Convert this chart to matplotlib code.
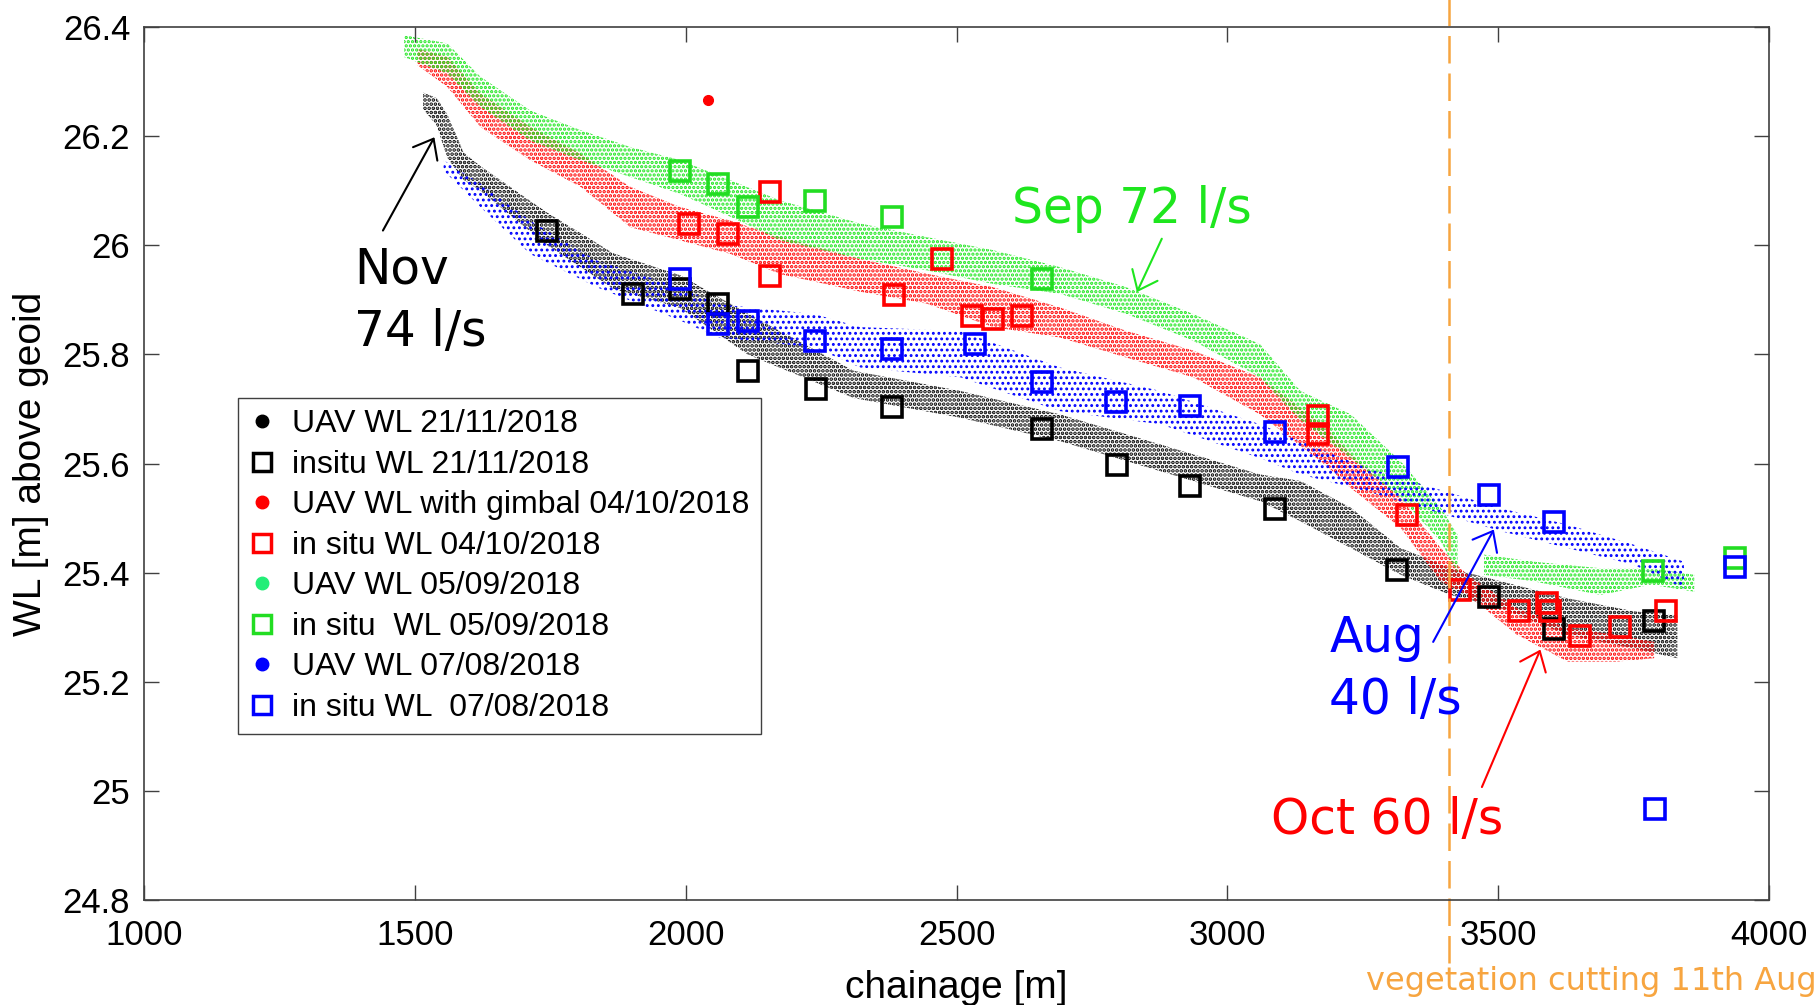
import numpy as np
import matplotlib as mpl
import matplotlib.pyplot as plt
from matplotlib.lines import Line2D

mpl.rcParams['font.family'] = 'Liberation Sans'

# UAV water level clouds: lower / upper envelope of the point cloud at each chainage
nov_ch = [1515, 1540, 1560, 1590, 1621, 1744, 1867, 1990, 2114, 2310, 2507, 2691, 2876, 3060,
          3135, 3228, 3320, 3412, 3505, 3628, 3751, 3831]
nov_lo = [26.25, 26.22, 26.16, 26.12, 26.10, 26.00, 25.92, 25.885, 25.80, 25.72, 25.684, 25.641,
          25.586, 25.531, 25.494, 25.445, 25.396, 25.359, 25.335, 25.286, 25.261, 25.243]
nov_hi = [26.28, 26.27, 26.24, 26.17, 26.145, 26.06, 25.985, 25.945, 25.875, 25.77, 25.733, 25.69,
          25.635, 25.58, 25.568, 25.519, 25.445, 25.408, 25.384, 25.353, 25.329, 25.322]

oct_ch = [1505, 1560, 1621, 1713, 1806, 1898, 1990, 2083, 2175, 2322, 2445, 2568, 2691, 2814,
          2937, 3060, 3184, 3228, 3320, 3394, 3443, 3535, 3628, 3720, 3788]
oct_lo = [26.33, 26.29, 26.217, 26.156, 26.107, 26.033, 26.009, 25.984, 25.947, 25.915, 25.893,
          25.85, 25.831, 25.794, 25.758, 25.69, 25.595, 25.555, 25.482, 25.384, 25.359, 25.286,
          25.237, 25.237, 25.243]
oct_hi = [26.36, 26.346, 26.278, 26.217, 26.168, 26.107, 26.07, 26.045, 26.015, 25.975, 25.948,
          25.923, 25.886, 25.843, 25.807, 25.758, 25.665, 25.617, 25.537, 25.445, 25.396, 25.335,
          25.298, 25.286, 25.273]

sep_ch = [1480, 1560, 1621, 1713, 1806, 1898, 1990, 2083, 2175, 2322, 2445, 2568, 2691, 2814,
          2937, 3060, 3135, 3228, 3320, 3394, 3425, 3445, 3474, 3566, 3689, 3782, 3862]
sep_lo = [26.345, 26.315, 26.254, 26.192, 26.156, 26.125, 26.094, 26.052, 26.009, 25.975, 25.954,
          25.929, 25.911, 25.874, 25.825, 25.758, 25.68, 25.61, 25.537, 25.457, 25.40, np.nan,
          25.396, 25.384, 25.359, 25.378, 25.365]
sep_hi = [26.385, 26.37, 26.309, 26.247, 26.211, 26.18, 26.156, 26.119, 26.082, 26.04, 26.015,
          25.991, 25.96, 25.923, 25.874, 25.819, 25.733, 25.69, 25.604, 25.519, 25.47, np.nan,
          25.433, 25.42, 25.408, 25.408, 25.396]

aug_ch = [1553, 1621, 1713, 1836, 1990, 2060, 2237, 2322, 2507, 2691, 2876, 3060, 3135, 3258,
          3382, 3505, 3628, 3751, 3843]
aug_lo = [26.137, 26.07, 25.984, 25.923, 25.862, 25.831, 25.813, 25.776, 25.758, 25.696, 25.672,
          25.61, 25.58, 25.549, 25.512, 25.476, 25.445, 25.414, 25.371]
aug_hi = [26.156, 26.113, 26.045, 25.972, 25.923, 25.892, 25.874, 25.85, 25.843, 25.776, 25.733,
          25.672, 25.641, 25.592, 25.555, 25.518, 25.488, 25.451, 25.42]

# in situ gauge readings
nov_situ_ch = [1743, 1903, 1989, 2060, 2115, 2241, 2380, 2657, 2796, 2931, 3088, 3314, 3483, 3603, 3788]
nov_situ_wl = [26.027, 25.911, 25.920, 25.892, 25.770, 25.736, 25.703, 25.663, 25.598, 25.559,
               25.516, 25.405, 25.356, 25.297, 25.311]

oct_situ_ch = [2007, 2078, 2155, 2155, 2384, 2473, 2528, 2568, 2620, 3168, 3168, 3331, 3430, 3538,
               3591, 3596, 3652, 3725, 3809]
oct_situ_wl = [26.039, 26.021, 26.097, 25.944, 25.908, 25.975, 25.871, 25.865, 25.871, 25.687,
               25.654, 25.506, 25.368, 25.329, 25.344, 25.33, 25.284, 25.30, 25.33]

sep_situ_ch = [1989, 2060, 2115, 2238, 2380, 2657, 3785, 3938]
sep_situ_wl = [26.137, 26.113, 26.070, 26.082, 26.052, 25.939, 25.403, 25.427]

aug_situ_ch = [1989, 2060, 2115, 2238, 2380, 2534, 2657, 2795, 2931, 3088, 3315, 3483, 3604, 3790, 3938]
aug_situ_wl = [25.938, 25.855, 25.862, 25.825, 25.810, 25.819, 25.749, 25.712, 25.706, 25.657,
               25.593, 25.543, 25.492, 24.967, 25.411]

# one stray gimbal point
oct_outlier = (2041, 26.266)

legend_labels = ['UAV WL 21/11/2018', 'insitu WL 21/11/2018', 'UAV WL with gimbal 04/10/2018',
                 'in situ WL 04/10/2018', 'UAV WL 05/09/2018', 'in situ  WL 05/09/2018',
                 'UAV WL 07/08/2018', 'in situ WL  07/08/2018']

yticks = [24.8, 25.0, 25.2, 25.4, 25.6, 25.8, 26.0, 26.2, 26.4]
ytick_labels = ['24.8', '25', '25.2', '25.4', '25.6', '25.8', '26', '26.2', '26.4']
xticks = [1000, 1500, 2000, 2500, 3000, 3500, 4000]

veg_cut = 3410

BLACK, RED, GREEN, BLUE = '#000000', '#ff0000', '#1ee61e', '#0000ff'
GREEN_SQ = '#22dd22'
ORANGE = '#f7a540'

fig = plt.figure(figsize=(18.19, 10.05), dpi=100)
ax = fig.add_axes([0.0792, 0.1045, 0.8933, 0.8686])


def cloud(ch, lo, hi, color, hatch, lw):
    with mpl.rc_context({'hatch.linewidth': lw}):
        ax.fill_between(ch, lo, hi, facecolor='none', edgecolor=color, hatch=hatch, linewidth=0)


sq = dict(ls='none', marker='s', mfc='none', ms=14, mew=2.6)

cloud(nov_ch, nov_lo, nov_hi, BLACK, '....', 1.8)
ax.plot(nov_situ_ch, nov_situ_wl, mec=BLACK, **sq)
cloud(oct_ch, oct_lo, oct_hi, RED, '....', 1.7)
ax.plot(*oct_outlier, 'o', color=RED, ms=7)
ax.plot(oct_situ_ch, oct_situ_wl, mec=RED, **sq)
cloud(sep_ch, sep_lo, sep_hi, GREEN, '....', 1.6)
ax.plot(sep_situ_ch, sep_situ_wl, mec=GREEN_SQ, **sq)
cloud(aug_ch, aug_lo, aug_hi, BLUE, '...', 1.3)
ax.plot(aug_situ_ch, aug_situ_wl, mec=BLUE, **sq)

ax.set_xlim(1000, 4000)
ax.set_ylim(24.8, 26.4)
ax.set_xticks(xticks)
ax.set_xticklabels([str(v) for v in xticks])
ax.set_yticks(yticks)
ax.set_yticklabels(ytick_labels)
ax.tick_params(direction='in', length=11, width=1, top=True, right=True,
               labelsize=25, color='#404040')
ax.tick_params(axis='x', pad=14)
ax.tick_params(axis='y', pad=10)
for s in ax.spines.values():
    s.set_color('#404040')
    s.set_linewidth(1.2)

ax.set_xlabel('chainage [m]', fontsize=28, labelpad=13)
ax.set_ylabel('WL [m] above geoid', fontsize=28, labelpad=10)

# vegetation cutting marker runs past the axes
ax.axvline(veg_cut, ymin=-0.072, ymax=1.04, clip_on=False, color=ORANGE, lw=1.8, dashes=(11, 4))
fig.text(0.9985, 0.0149, 'vegetation cutting 11th Aug', ha='right', va='baseline',
         color=ORANGE, fontsize=23, family='DejaVu Sans')

# discharge annotations
afont = dict(fontsize=35, family='DejaVu Sans', linespacing=1.38)
ax.text(1388, 26.0, 'Nov\n74 l/s', color=BLACK, va='top', **afont)
ax.text(2602, 26.04, 'Sep 72 l/s', color=GREEN, va='baseline', **afont)
ax.text(3188, 25.325, 'Aug\n40 l/s', color=BLUE, va='top', **afont)
ax.text(3080, 24.921, 'Oct 60 l/s', color=RED, va='baseline', **afont)

arrows = [((1536, 26.198), (1441, 26.027), BLACK),
          ((2833, 25.914), (2879, 26.012), GREEN),
          ((3492, 25.479), (3380, 25.273), BLUE),
          ((3578, 25.259), (3470, 25.007), RED)]
for head, tail, c in arrows:
    ax.annotate('', xy=head, xytext=tail,
                arrowprops=dict(arrowstyle='->,head_length=0.5,head_width=0.4', color=c,
                                lw=1.5, shrinkA=0, shrinkB=0, mutation_scale=25))

handles = []
for c, sqc in [(BLACK, BLACK), (RED, RED), ('#22ee77', GREEN_SQ), (BLUE, BLUE)]:
    handles.append(Line2D([], [], ls='none', marker='o', color=c, ms=9))
    handles.append(Line2D([], [], ls='none', marker='s', mfc='none', mec=sqc, ms=13, mew=2.5))
leg = ax.legend(handles, legend_labels, loc='upper left', bbox_to_anchor=(0.0578, 0.575),
                borderaxespad=0, fontsize=23, handlelength=0.8, handletextpad=0.55,
                borderpad=0.35, labelspacing=0.33, fancybox=False, framealpha=1)
leg.get_frame().set_edgecolor('#404040')
leg.get_frame().set_linewidth(1.0)

fig.savefig('out.png', dpi=100)
